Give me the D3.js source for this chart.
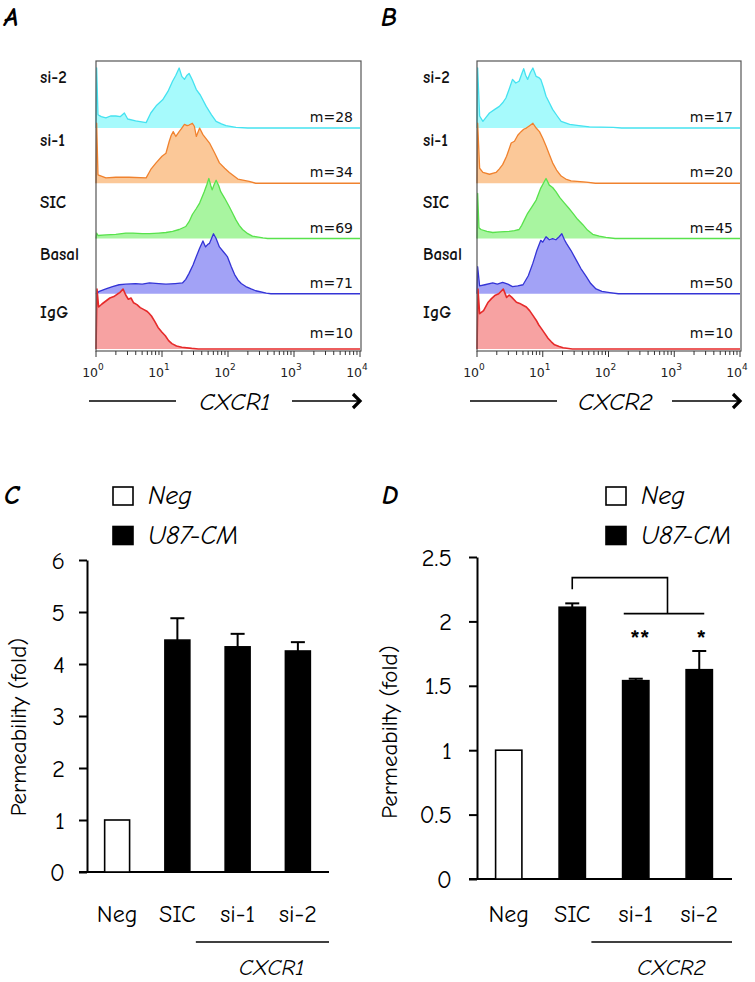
<!DOCTYPE html>
<html><head><meta charset="utf-8">
<script src="https://cdn.jsdelivr.net/npm/d3@7"></script>
<style>
body{margin:0;background:#fff;}
svg{display:block;font-family:"Comic Sans MS","Comic Neue","DejaVu Sans",sans-serif;}
</style></head>
<body>
<svg id="chart" width="755" height="982"></svg>
<script>
// ---------------- DATA ----------------
const rowLabels = ["si-2", "si-1", "SIC", "Basal", "IgG"];
const meansCXCR1 = [28, 34, 69, 71, 10];
const meansCXCR2 = [17, 20, 45, 50, 10];
const decadeExponents = [0, 1, 2, 3, 4];

// histograms: [log10 fluorescence, relative count (peak = 100)]
const cxcr1_si2 = [[0,0],[0.01,100],[0.03,22],[0.08,19],[0.15,17],[0.22,20],[0.3,20],[0.37,19],[0.43,25],[0.48,15],[0.6,12],[0.76,9],[0.83,25],[0.92,38],[1.01,47],[1.09,61],[1.16,78],[1.21,88],[1.26,100],[1.3,86],[1.34,81],[1.38,88],[1.41,91],[1.46,80],[1.52,64],[1.58,55],[1.67,36],[1.75,22],[1.82,11],[1.9,7],[1.97,4],[2.12,1],[2.3,0]];
const cxcr1_si1 = [[0,0],[0.01,100],[0.03,14],[0.08,12],[0.15,9],[0.3,10],[0.5,10],[0.76,9],[0.83,23],[0.91,34],[1.0,45],[1.06,50],[1.11,70],[1.14,80],[1.17,86],[1.21,78],[1.26,86],[1.3,92],[1.34,98],[1.38,96],[1.41,97],[1.46,100],[1.49,95],[1.52,78],[1.57,92],[1.62,81],[1.67,74],[1.72,67],[1.8,50],[1.87,34],[1.95,25],[2.02,18],[2.15,7],[2.32,3],[2.42,0]];
const cxcr1_sic = [[0,0],[0.01,9],[0.03,5],[0.15,6],[0.3,7],[0.45,9],[0.56,9],[0.7,8],[0.81,8],[0.95,9],[1.06,10],[1.16,12],[1.26,15],[1.36,20],[1.41,28],[1.46,40],[1.52,50],[1.57,59],[1.64,78],[1.68,90],[1.71,100],[1.74,88],[1.76,81],[1.79,90],[1.82,97],[1.86,88],[1.89,78],[1.95,67],[2.02,53],[2.07,42],[2.12,31],[2.17,22],[2.22,15],[2.3,8],[2.37,4],[2.53,1],[2.6,0]];
const cxcr1_basal = [[0,0],[0.05,4],[0.15,8],[0.25,12],[0.35,15],[0.45,16],[0.6,17],[0.7,16],[0.81,18],[0.95,17],[1.06,16],[1.2,17],[1.31,18],[1.36,24],[1.41,34],[1.47,48],[1.52,62],[1.57,76],[1.62,88],[1.66,78],[1.69,82],[1.72,84],[1.75,92],[1.78,100],[1.82,92],[1.87,78],[1.93,70],[1.99,62],[2.05,45],[2.1,32],[2.15,23],[2.2,17],[2.27,12],[2.35,8],[2.42,5],[2.58,1],[2.65,0]];
const cxcr1_igg = [[0,0],[0.015,100],[0.04,70],[0.09,75],[0.15,80],[0.21,85],[0.28,88],[0.33,92],[0.36,94],[0.41,100],[0.45,90],[0.49,83],[0.53,85],[0.57,77],[0.62,74],[0.67,69],[0.72,66],[0.77,63],[0.8,60],[0.84,55],[0.89,46],[0.94,36],[1.0,28],[1.05,22],[1.1,14],[1.15,9],[1.22,5],[1.3,3],[1.45,1],[1.55,0]];

const cxcr2_si2 = [[0,0],[0.01,100],[0.04,20],[0.09,11],[0.14,18],[0.19,25],[0.27,31],[0.34,36],[0.39,42],[0.44,50],[0.49,65],[0.54,81],[0.59,75],[0.64,78],[0.68,90],[0.71,99],[0.74,88],[0.77,81],[0.81,92],[0.85,100],[0.9,86],[0.94,84],[0.97,81],[1.01,68],[1.05,53],[1.1,42],[1.15,31],[1.22,20],[1.28,11],[1.41,6],[1.55,4],[1.71,2],[2.07,1],[2.2,0]];
const cxcr2_si1 = [[0,0],[0.01,100],[0.04,25],[0.09,18],[0.19,15],[0.29,18],[0.34,24],[0.39,31],[0.45,45],[0.52,67],[0.57,70],[0.62,80],[0.67,86],[0.71,90],[0.75,92],[0.8,96],[0.85,100],[0.9,92],[0.95,86],[1.0,75],[1.05,62],[1.1,48],[1.15,34],[1.21,22],[1.28,12],[1.35,7],[1.43,4],[1.66,2],[1.8,0]];
const cxcr2_sic = [[0,0],[0.01,75],[0.03,18],[0.06,15],[0.15,12],[0.24,10],[0.35,11],[0.49,12],[0.57,13],[0.64,15],[0.68,22],[0.72,31],[0.77,42],[0.83,52],[0.9,64],[0.97,84],[1.01,92],[1.05,100],[1.1,89],[1.15,85],[1.2,78],[1.26,68],[1.33,59],[1.4,50],[1.46,42],[1.53,32],[1.61,23],[1.68,14],[1.76,7],[1.86,4],[1.96,2],[2.1,0]];
const cxcr2_basal = [[0,0],[0.01,45],[0.04,13],[0.12,15],[0.24,18],[0.31,16],[0.39,19],[0.47,16],[0.54,12],[0.62,13],[0.7,15],[0.78,30],[0.85,51],[0.91,72],[0.97,89],[1.0,86],[1.05,95],[1.1,90],[1.15,92],[1.2,90],[1.25,95],[1.29,100],[1.33,90],[1.36,84],[1.43,72],[1.51,56],[1.58,42],[1.66,29],[1.73,17],[1.81,8],[1.9,4],[2.02,2],[2.15,0]];
const cxcr2_igg = [[0,0],[0.015,100],[0.04,59],[0.1,64],[0.17,78],[0.22,84],[0.27,89],[0.33,92],[0.4,100],[0.45,86],[0.49,90],[0.53,86],[0.6,78],[0.65,76],[0.7,73],[0.75,70],[0.8,64],[0.85,56],[0.9,48],[0.94,40],[0.98,34],[1.03,26],[1.08,18],[1.13,12],[1.18,7],[1.25,4],[1.31,2],[1.45,0]];

const histCXCR1 = [cxcr1_si2, cxcr1_si1, cxcr1_sic, cxcr1_basal, cxcr1_igg];
const histCXCR2 = [cxcr2_si2, cxcr2_si1, cxcr2_sic, cxcr2_basal, cxcr2_igg];

// permeability bar charts
const barCategories = ["Neg", "SIC", "si-1", "si-2"];
const barGroup = ["Neg", "U87-CM", "U87-CM", "U87-CM"];
const permCXCR1 = [1, 4.46, 4.33, 4.25];
const permCXCR1Err = [0, 0.42, 0.25, 0.17];
const permCXCR2 = [1, 2.11, 1.54, 1.625];
const permCXCR2Err = [0, 0.03, 0.015, 0.145];
const yTicksC = [0, 1, 2, 3, 4, 5, 6];
const yTicksD = [0, 0.5, 1, 1.5, 2, 2.5];
const legendItems = ["Neg", "U87-CM"];
const sigMarks = ["", "", "**", "*"];

// ---------------- STYLE ----------------
const lineColors = ["#45e2f0", "#f0822e", "#58e24c", "#3434d6", "#e62a2a"];
const fillColors = ["#a6fafc", "#fbc898", "#a8f5a0", "#a2a2f6", "#f7a2a2"];
const FONT = '"Comic Sans MS","Comic Neue","DejaVu Sans",sans-serif';

const svg = d3.select("#chart");

// ---------------- HISTOGRAM PANELS ----------------
function histPanel(cfg) {
  const g = svg.append("g");
  const x = d3.scaleLog().domain([1, 1e4]).range([cfg.left, cfg.right]);
  const h = d3.scaleLinear().domain([0, 100]).range([0, 60]);
  const rowBase = d3.scalePoint().domain(rowLabels).range([cfg.top + 67, cfg.bottom - 2]);

  cfg.hists.forEach((data, i) => {
    const base = rowBase(rowLabels[i]);
    const pts = data.concat([[4, 0]]);
    const area = d3.area().x(d => x(10 ** d[0])).y0(base).y1(d => base - h(d[1]));
    const line = d3.line().x(d => x(10 ** d[0])).y(d => base - h(d[1]));
    g.append("path").attr("d", area(pts)).attr("fill", fillColors[i]);
    g.append("path").attr("d", line(pts)).attr("fill", "none")
      .attr("stroke", lineColors[i]).attr("stroke-width", i === 4 ? 1.6 : 1.3)
      .attr("stroke-linejoin", "round");
    g.append("text").attr("x", cfg.right - 7).attr("y", base - (i === 4 ? 11 : 6))
      .attr("text-anchor", "end").attr("font-family", "DejaVu Sans, sans-serif")
      .attr("font-size", 14).attr("fill", "#111").text("m=" + cfg.means[i]);
    g.append("text").attr("x", cfg.labelX).attr("y", base + cfg.labelDy[i])
      .attr("font-size", 17).attr("font-weight", "bold").attr("fill", "#111")
      .text(rowLabels[i]);
  });

  g.append("rect").attr("x", cfg.left).attr("y", cfg.top)
    .attr("width", cfg.right - cfg.left + 1).attr("height", cfg.bottom - cfg.top)
    .attr("fill", "none").attr("stroke", "#555").attr("stroke-width", 1.2);

  const ticks = x.ticks();
  ticks.forEach(t => {
    const major = Math.abs(Math.log10(t) - Math.round(Math.log10(t))) < 1e-9;
    g.append("line").attr("x1", x(t)).attr("x2", x(t))
      .attr("y1", cfg.bottom).attr("y2", cfg.bottom + (major ? 6 : 4))
      .attr("stroke", "#333").attr("stroke-width", 1);
  });
  decadeExponents.forEach(e => {
    const t = g.append("text").attr("x", x(10 ** e) - 3).attr("y", cfg.bottom + 26)
      .attr("text-anchor", "middle").attr("font-family", "DejaVu Sans, sans-serif")
      .attr("font-size", 12.5).attr("fill", "#222");
    t.append("tspan").text("10");
    t.append("tspan").attr("dy", -7).attr("font-size", 9).text(e);
  });

  const ay = cfg.bottom + 50;
  g.append("line").attr("x1", cfg.left - 7).attr("x2", cfg.left + 80)
    .attr("y1", ay).attr("y2", ay).attr("stroke", "#000").attr("stroke-width", 1.5);
  g.append("text").attr("x", (cfg.left + cfg.right) / 2 + 7).attr("y", ay + 9)
    .attr("text-anchor", "middle").attr("font-style", "italic").attr("font-size", 25)
    .text(cfg.title);
  g.append("line").attr("x1", cfg.right - 68).attr("x2", cfg.right)
    .attr("y1", ay).attr("y2", ay).attr("stroke", "#000").attr("stroke-width", 1.5);
  g.append("path").attr("d", `M${cfg.right - 7},${ay - 7} L${cfg.right},${ay} L${cfg.right - 7},${ay + 7}`)
    .attr("fill", "none").attr("stroke", "#000").attr("stroke-width", 3.2)
    .attr("stroke-linejoin", "miter");

  g.append("text").attr("x", cfg.letterX).attr("y", 26).attr("font-size", 26)
    .attr("font-weight", "bold").attr("font-style", "italic").text(cfg.letter);
}

histPanel({ left: 96, right: 360, top: 61, bottom: 351, hists: histCXCR1, means: meansCXCR1,
  labelX: 40, labelDy: [-45, -37, -31, -34, -31], title: "CXCR1", letter: "A", letterX: 4 });
histPanel({ left: 477, right: 740, top: 61, bottom: 351, hists: histCXCR2, means: meansCXCR2,
  labelX: 423, labelDy: [-45, -37, -31, -34, -31], title: "CXCR2", letter: "B", letterX: 381 });

// ---------------- BAR PANELS ----------------
function barPanel(cfg) {
  const g = svg.append("g");
  const y = d3.scaleLinear().domain([0, cfg.yMax]).range([cfg.y0, cfg.yTop]);
  const x = d3.scaleBand().domain(barCategories).range([cfg.xStart, cfg.xEnd])
    .paddingInner(0.586).paddingOuter(0.293);

  const ax = g.append("g").attr("transform", `translate(${cfg.xStart},0)`)
    .call(d3.axisLeft(y).tickValues(cfg.yTicks).tickSize(8).tickSizeOuter(0).tickPadding(cfg.tickPad)
      .tickFormat(d => d));
  ax.select(".domain").attr("stroke-width", 2);
  ax.selectAll(".tick line").attr("stroke-width", 2);
  ax.selectAll(".tick text").attr("font-size", 25).attr("font-family", FONT).attr("fill", "#000");

  g.append("line").attr("x1", cfg.xStart - 8).attr("x2", cfg.xEnd + 1)
    .attr("y1", y(0)).attr("y2", y(0)).attr("stroke", "#000").attr("stroke-width", 2);

  barCategories.forEach((c, i) => {
    if (cfg.err[i] <= 0) return;
    const cx = x(c) + x.bandwidth() / 2;
    g.append("line").attr("x1", cx).attr("x2", cx).attr("y1", y(cfg.vals[i]))
      .attr("y2", y(cfg.vals[i] + cfg.err[i])).attr("stroke", "#000").attr("stroke-width", 2);
    g.append("line").attr("x1", cx - 7).attr("x2", cx + 7)
      .attr("y1", y(cfg.vals[i] + cfg.err[i])).attr("y2", y(cfg.vals[i] + cfg.err[i]))
      .attr("stroke", "#000").attr("stroke-width", 2);
  });

  g.selectAll("rect.bar").data(barCategories).join("rect").attr("class", "bar")
    .attr("x", d => x(d)).attr("width", x.bandwidth())
    .attr("y", (d, i) => y(cfg.vals[i])).attr("height", (d, i) => y(0) - y(cfg.vals[i]))
    .attr("fill", (d, i) => barGroup[i] === "Neg" ? "#fff" : "#000")
    .attr("stroke", "#000").attr("stroke-width", 1.6);

  barCategories.forEach(c => {
    g.append("text").attr("x", x(c) + x.bandwidth() / 2).attr("y", 922)
      .attr("text-anchor", "middle").attr("font-size", 24).text(c);
  });
  const gx1 = x("SIC") + x.bandwidth() + 6;
  g.append("line").attr("x1", gx1).attr("x2", cfg.xEnd + 1).attr("y1", 942).attr("y2", 942)
    .attr("stroke", "#000").attr("stroke-width", 1.5);
  g.append("text").attr("x", (x("si-1") + x("si-2") + x.bandwidth()) / 2 + 4).attr("y", 975)
    .attr("text-anchor", "middle").attr("font-style", "italic").attr("font-size", 23).text(cfg.group);

  g.append("text").attr("transform", `translate(${cfg.labelX},${cfg.labelY}) rotate(-90)`)
    .attr("text-anchor", "middle").attr("dominant-baseline", "central")
    .attr("font-size", 23).text(cfg.ylabel);

  legendItems.forEach((l, i) => {
    const ly = 487 + i * 39.5;
    g.append("rect").attr("x", cfg.legX).attr("y", ly).attr("width", 20).attr("height", 18)
      .attr("fill", i === 0 ? "#fff" : "#000").attr("stroke", "#000").attr("stroke-width", 1.6);
    g.append("text").attr("x", cfg.legX + 35).attr("y", ly + 17).attr("font-size", 26)
      .attr("font-style", "italic").text(l);
  });

  g.append("text").attr("x", cfg.letterX).attr("y", 504).attr("font-size", 26)
    .attr("font-weight", "bold").attr("font-style", "italic").text(cfg.letter);
  return { g, x, y };
}

barPanel({ yMax: 6, y0: 872, yTop: 560, xStart: 87, xEnd: 328, yTicks: yTicksC,
  vals: permCXCR1, err: permCXCR1Err, group: "CXCR1", ylabel: "Permeability (fold)",
  labelX: 18, labelY: 727, legX: 113, letter: "C", letterX: 4, tickPad: 14 });

const D = barPanel({ yMax: 2.5, y0: 879, yTop: 557, xStart: 477, xEnd: 731, yTicks: yTicksD,
  vals: permCXCR2, err: permCXCR2Err, group: "CXCR2", ylabel: "Permeabilty (fold)",
  labelX: 389, labelY: 732, legX: 606, letter: "D", letterX: 382, tickPad: 17 });

// significance bracket (panel D)
(function () {
  const { g, x, y } = D;
  const bw = x.bandwidth();
  const cSIC = x("SIC") + bw / 2;
  const c1 = x("si-1") + bw / 2, c2 = x("si-2") + bw / 2;
  const top = y(2.34), low = y(2.25), mid = y(2.06);
  const right = (c1 + c2) / 2;
  g.append("path").attr("d", `M${cSIC},${low} V${top} H${right} V${mid}`)
    .attr("fill", "none").attr("stroke", "#000").attr("stroke-width", 1.6);
  g.append("line").attr("x1", c1 - 12).attr("x2", c2 + 5).attr("y1", mid).attr("y2", mid)
    .attr("stroke", "#000").attr("stroke-width", 1.6);
  barCategories.forEach((c, i) => {
    if (!sigMarks[i]) return;
    g.append("text").attr("x", x(c) + bw / 2 + (i === 2 ? 4 : 2)).attr("y", y(1.79))
      .attr("text-anchor", "middle").attr("font-size", 26).attr("font-weight", "bold")
      .text(sigMarks[i]);
  });
})();
</script>
</body></html>
